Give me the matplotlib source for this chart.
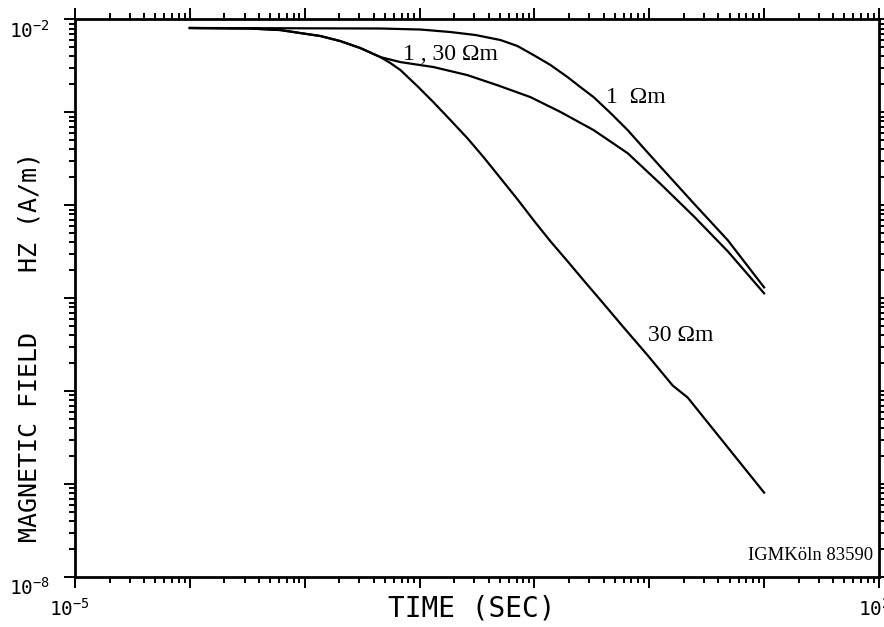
import numpy as np
import matplotlib
matplotlib.use("Agg")
import matplotlib.pyplot as plt
import matplotlib.ticker as mticker
import matplotlib.transforms as mtransforms

plt.rcParams['mathtext.fontset'] = 'custom'
plt.rcParams['mathtext.rm'] = 'DejaVu Sans Mono'
plt.rcParams['mathtext.it'] = 'DejaVu Sans Mono'
plt.rcParams['mathtext.bf'] = 'DejaVu Sans Mono'

# 1 ohm-m halfspace
t1 = [1e-4, 4.56e-3, 0.0102, 0.0186, 0.0307, 0.0507, 0.0713, 0.0984, 0.138, 0.1945,
      0.252, 0.328, 0.461, 0.649, 0.896, 1.26, 2.44, 4.83, 10]
h1 = [8.1e-3, 8.0e-3, 7.8e-3, 7.33e-3, 6.81e-3, 6.01e-3, 5.18e-3, 4.14e-3, 3.24e-3, 2.40e-3,
      1.87e-3, 1.46e-3, 9.83e-4, 6.45e-4, 4.12e-4, 2.58e-4, 1.05e-4, 4.21e-5, 1.31e-5]

# two layer 1, 30 ohm-m
t2 = [1e-4, 3.35e-4, 6.12e-4, 9.15e-4, 1.37e-3, 2.04e-3, 3.05e-3, 4.56e-3, 6.81e-3, 0.0132,
      0.0261, 0.0478, 0.0926, 0.169, 0.328, 0.649, 1.26, 2.44, 4.83, 10]
h2 = [8.1e-3, 8.0e-3, 7.7e-3, 7.15e-3, 6.64e-3, 5.86e-3, 4.93e-3, 3.94e-3, 3.48e-3, 3.08e-3,
      2.52e-3, 1.96e-3, 1.46e-3, 1.01e-3, 6.45e-4, 3.64e-4, 1.69e-4, 7.63e-5, 3.20e-5, 1.13e-5]

# 30 ohm-m halfspace
t3 = [1e-4, 3.35e-4, 6.12e-4, 9.15e-4, 1.37e-3, 2.04e-3, 3.05e-3, 4.56e-3, 5.57e-3, 6.81e-3,
      9.57e-3, 0.0132, 0.0186, 0.0261, 0.0361, 0.0507, 0.0713, 0.0984, 0.138, 0.1945,
      0.268, 0.378, 0.598, 0.969, 1.60, 2.16, 10]
h3 = [8.1e-3, 8.0e-3, 7.7e-3, 7.15e-3, 6.64e-3, 5.86e-3, 4.93e-3, 3.94e-3, 3.40e-3, 2.86e-3,
      1.92e-3, 1.29e-3, 8.26e-4, 5.28e-4, 3.30e-4, 1.96e-4, 1.16e-4, 6.91e-5, 4.10e-5, 2.50e-5,
      1.56e-5, 9.5e-6, 4.86e-6, 2.43e-6, 1.15e-6, 8.55e-7, 8.1e-8]

xlim = (1e-5, 1e2)
ylim = (1e-8, 1e-2)

fig = plt.figure(figsize=(8.84, 6.27), dpi=100)
ax = fig.add_axes([0.0848, 0.0797, 0.9095, 0.8892])

for t, h in [(t1, h1), (t2, h2), (t3, h3)]:
    ax.plot(t, h, color='black', lw=1.6, solid_joinstyle='round')

ax.set_xscale('log')
ax.set_yscale('log')
ax.set_xlim(xlim)
ax.set_ylim(ylim)

ax.xaxis.set_major_locator(mticker.LogLocator(base=10, numticks=20))
ax.yaxis.set_major_locator(mticker.LogLocator(base=10, numticks=20))
ax.xaxis.set_minor_locator(mticker.LogLocator(base=10, subs=np.arange(2, 10), numticks=20))
ax.yaxis.set_minor_locator(mticker.LogLocator(base=10, subs=np.arange(2, 10), numticks=20))
ax.xaxis.set_minor_formatter(mticker.NullFormatter())
ax.yaxis.set_minor_formatter(mticker.NullFormatter())


def end_label(lims):
    def f(v, pos):
        for lim in lims:
            if abs(np.log10(v) - np.log10(lim)) < 1e-6:
                return r'$10^{%d}$' % round(np.log10(v))
        return ''
    return mticker.FuncFormatter(f)


ax.xaxis.set_major_formatter(end_label(xlim))
ax.yaxis.set_major_formatter(end_label(ylim))

ax.tick_params(which='both', direction='out', top=True, right=True, width=1.4)
ax.tick_params(which='major', length=8, labelsize=14)
ax.tick_params(which='minor', length=4)
ax.tick_params(axis='x', pad=7)
ax.tick_params(axis='y', pad=10)
for s in ax.spines.values():
    s.set_linewidth(2)

# labels in the original sit a bit low / left of their ticks
yoff = mtransforms.ScaledTranslation(0, -0.09, fig.dpi_scale_trans)
for lab in ax.get_yticklabels():
    lab.set_transform(lab.get_transform() + yoff)
xoff = mtransforms.ScaledTranslation(-0.05, 0, fig.dpi_scale_trans)
for lab in ax.get_xticklabels():
    lab.set_transform(lab.get_transform() + xoff)

fig.text(472 / 884, 0.029, 'TIME (SEC)', family='DejaVu Sans Mono', fontsize=20,
         ha='center', va='center')
fig.text(30 / 884, 0.447, 'MAGNETIC FIELD    HZ (A/m)', family='DejaVu Sans Mono',
         fontsize=18, rotation=90, ha='center', va='center')

serif = 'Liberation Serif'
ax.text(7.2e-3, 4.25e-3, '1 , 30 \u03a9m', family=serif, fontsize=17, ha='left', va='center')
ax.text(0.417, 1.43e-3, '1  \u03a9m', family=serif, fontsize=17, ha='left', va='center')
ax.text(0.97, 4.0e-6, '30 \u03a9m', family=serif, fontsize=17, ha='left', va='center')
ax.text(0.9925, 0.0395, 'IGMK\u00f6ln 83590', family=serif, fontsize=13.4,
        ha='right', va='center', transform=ax.transAxes)

fig.savefig('out.png', dpi=100)
